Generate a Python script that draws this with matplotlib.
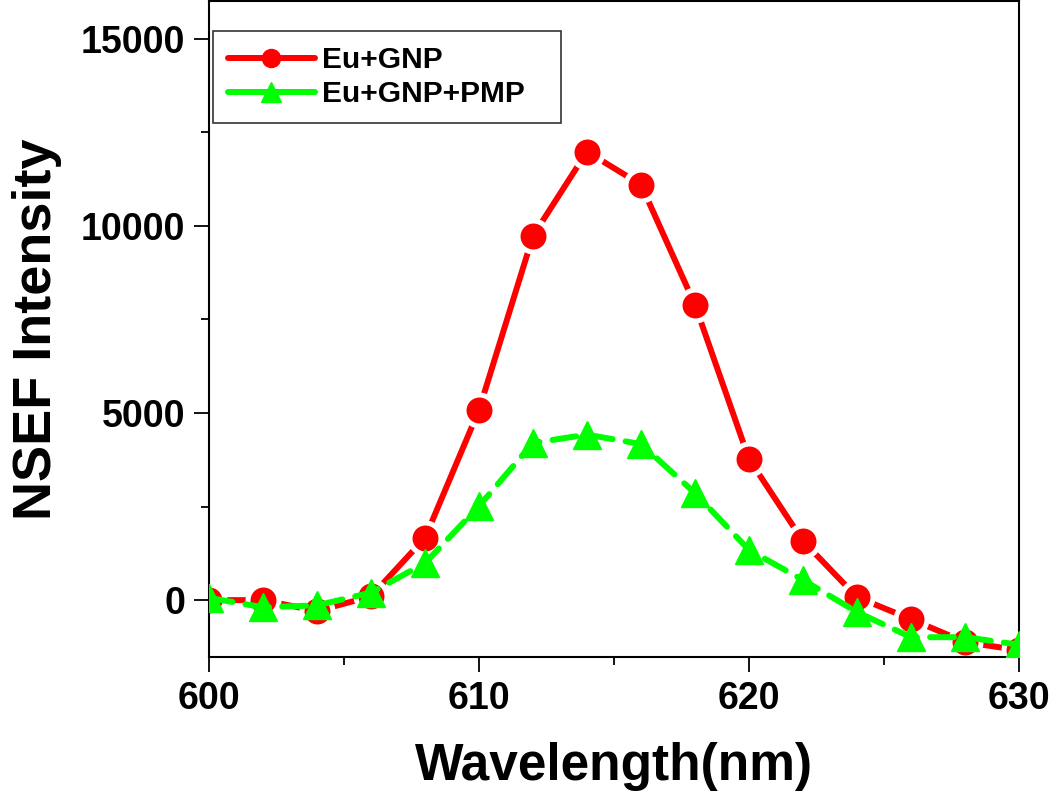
import matplotlib
matplotlib.use("Agg")
import matplotlib.pyplot as plt
from matplotlib.ticker import MultipleLocator
from matplotlib.lines import Line2D

wavelength = [600, 602, 604, 606, 608, 610, 612, 614, 616, 618, 620, 622, 624, 626, 628, 630]
eu_gnp = [0, 0, -290, 100, 1660, 5080, 9730, 11980, 11100, 7890, 3770, 1580, 80, -510, -1120, -1340]
eu_gnp_pmp = [60, -190, -140, 200, 990, 2510, 4200, 4420, 4170, 2860, 1340, 540, -320, -990, -990, -1190]

labels = ["Eu+GNP", "Eu+GNP+PMP"]
xlabel = "Wavelength(nm)"
ylabel = "NSEF Intensity"
xticks = [600, 610, 620, 630]
yticks = [0, 5000, 10000, 15000]

RED = '#FF0000'
GREEN = '#00FF00'

plt.rcParams['font.family'] = ['Liberation Sans', 'DejaVu Sans']
plt.rcParams['font.weight'] = 'bold'

fig = plt.figure(figsize=(10.5, 7.94), dpi=100)
ax = fig.add_axes([0.199, 0.1725, 0.7715, 0.826])

ax.plot(wavelength, eu_gnp, color=RED, lw=4.3, marker='o', ms=22.3,
        mec='white', mew=3.6, mfc=RED, solid_capstyle='round', zorder=2)
ax.plot(wavelength, eu_gnp_pmp, color=GREEN, lw=4.3, marker='^', ms=20,
        mec=GREEN, mfc=GREEN, linestyle=(0, (4.0, 2.2)),
        dash_capstyle='round', zorder=3)

ax.set_xlim(600, 630)
ax.set_ylim(-1520, 16000)
ax.set_xticks(xticks)
ax.set_yticks(yticks)
ax.xaxis.set_minor_locator(MultipleLocator(5))
ax.yaxis.set_minor_locator(MultipleLocator(2500))
ax.tick_params(which='major', direction='out', length=11, width=1.3, labelsize=27, pad=6)
ax.tick_params(which='minor', direction='out', length=5.5, width=1.3)
ax.tick_params(top=False, right=False)
for lab in ax.get_xticklabels() + ax.get_yticklabels():
    lab.set_fontweight('bold')
for sp in ax.spines.values():
    sp.set_linewidth(1.5)

ax.set_xlabel(xlabel, fontsize=37, fontweight='bold', labelpad=18)
ax.set_ylabel(ylabel, fontsize=39, fontweight='bold', labelpad=14)

handles = [
    Line2D([], [], color=RED, lw=4.3, marker='o', ms=13, mfc=RED, mec=RED, solid_capstyle='round'),
    Line2D([], [], color=GREEN, lw=4.3, marker='^', ms=14, mfc=GREEN, mec=GREEN, solid_capstyle='round'),
]
leg = ax.legend(handles, labels, loc='upper left', mode='expand',
                bbox_to_anchor=(0.005, 0.0, 0.43, 0.954), fontsize=21.5,
                frameon=True, fancybox=False, edgecolor='black', handlelength=2.9,
                borderpad=0.5, labelspacing=0.2, handletextpad=0.25, borderaxespad=0)
leg.get_frame().set_linewidth(1.2)
for t in leg.get_texts():
    t.set_fontweight('bold')

fig.savefig("out.png", dpi=100)
